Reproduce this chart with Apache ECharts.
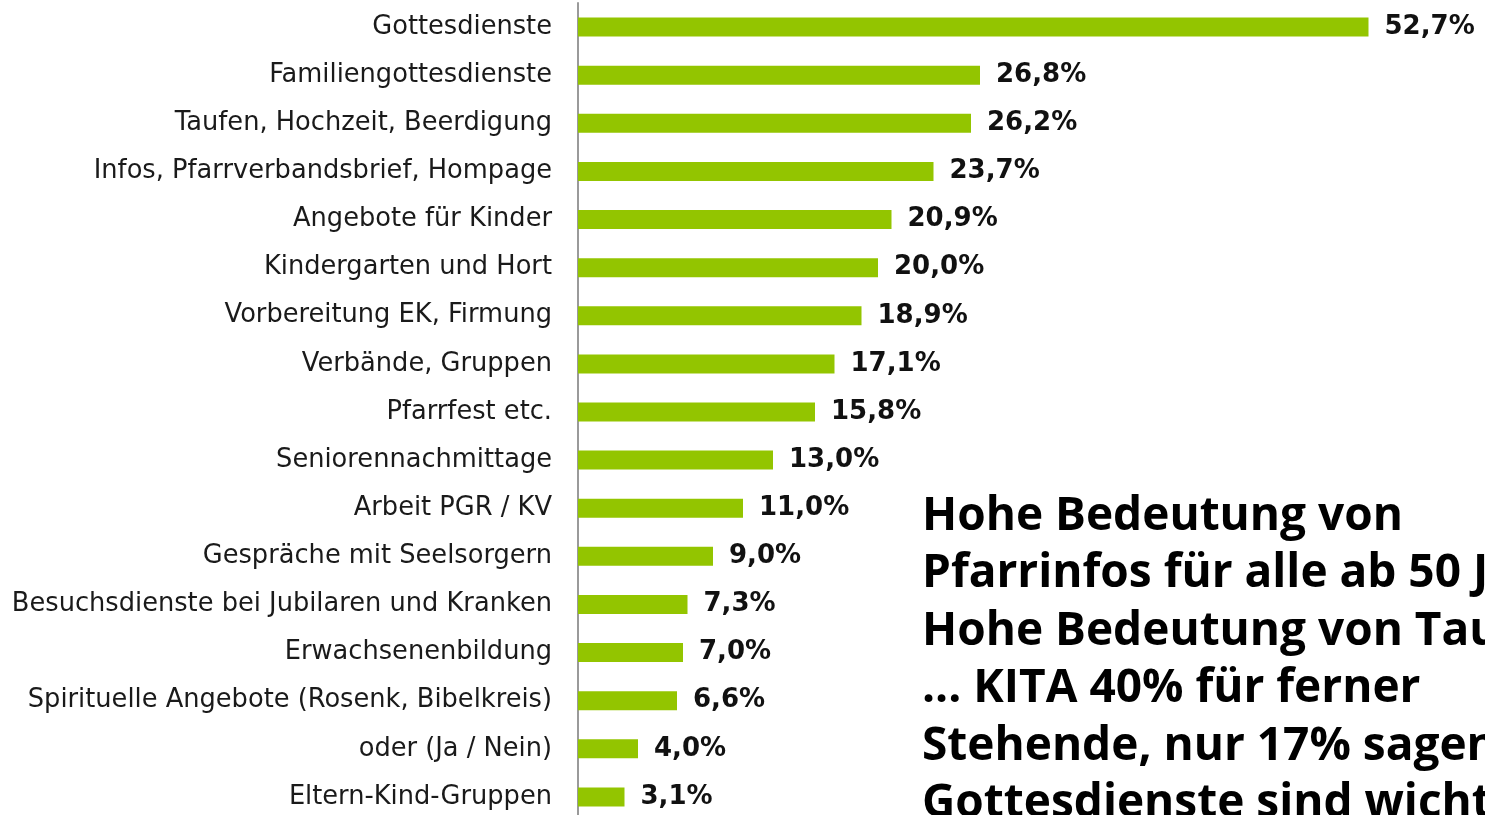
<!DOCTYPE html>
<html>
<head>
<meta charset="utf-8">
<script src="https://cdn.jsdelivr.net/npm/echarts@6/dist/echarts.min.js"></script>
<style>
  html, body { margin: 0; padding: 0; background: #fff; }
  #main { width: 1485px; height: 815px; }
</style>
</head>
<body>
<div id="main"></div>
<script>
// categories top to bottom
var categories = [
	'Gottesdienste',
	'Familiengottesdienste',
	'Taufen, Hochzeit, Beerdigung',
	'Infos, Pfarrverbandsbrief, Hompage',
	'Angebote für Kinder',
	'Kindergarten und Hort',
	'Vorbereitung EK, Firmung',
	'Verbände, Gruppen',
	'Pfarrfest etc.',
	'Seniorennachmittage',
	'Arbeit PGR / KV',
	'Gespräche mit Seelsorgern',
	'Besuchsdienste bei Jubilaren und Kranken',
	'Erwachsenenbildung',
	'Spirituelle Angebote (Rosenk, Bibelkreis)',
	'oder (Ja / Nein)',
	'Eltern-Kind-Gruppen'
];
var values = [52.7, 26.8, 26.2, 23.7, 20.9, 20.0, 18.9, 17.1, 15.8, 13.0, 11.0, 9.0, 7.3, 7.0, 6.6, 4.0, 3.1];
var noteLines = [
	'Hohe Bedeutung von',
	'Pfarrinfos für alle ab 50 J.',
	'Hohe Bedeutung von Taufen',
	'... KITA 40% für ferner',
	'Stehende, nur 17% sagen',
	'Gottesdienste sind wichtig'
];

var font = '"DejaVu Sans", sans-serif';
var noteFont = '"Open Sans", sans-serif';

var option = {
	backgroundColor: '#fff',
	animation: false,
	grid: { left: 578, top: 3, width: 900, height: 818, outerBoundsMode: 'none' },
	xAxis: {
		type: 'value',
		min: 0,
		max: 60,
		show: false
	},
	yAxis: {
		type: 'category',
		inverse: true,
		data: categories,
		axisLine: { lineStyle: { color: '#9a9a9a', width: 2 } },
		axisTick: { show: false },
		axisLabel: {
			margin: 26,
			color: '#1a1a1a',
			fontSize: 25.7,
			fontFamily: font,
			padding: [2, 0, 0, 0]
		}
	},
	series: [{
		type: 'bar',
		data: values,
		barWidth: 19,
		itemStyle: { color: '#93c500' },
		label: {
			show: true,
			position: 'right',
			distance: 16,
			color: '#111',
			fontSize: 26,
			fontWeight: 'bold',
			fontFamily: font,
			padding: [4, 0, 0, 0],
			formatter: function (p) {
				return p.value.toFixed(1).replace('.', ',') + '%';
			}
		}
	}],
	graphic: [{
		type: 'text',
		left: 922,
		top: 488,
		style: {
			text: noteLines.join('\n'),
			font: 'bold 46px ' + noteFont,
			lineHeight: 57.5,
			fill: '#000'
		}
	}]
};

var chart = echarts.init(document.getElementById('main'));
chart.setOption(option);
</script>
</body>
</html>
